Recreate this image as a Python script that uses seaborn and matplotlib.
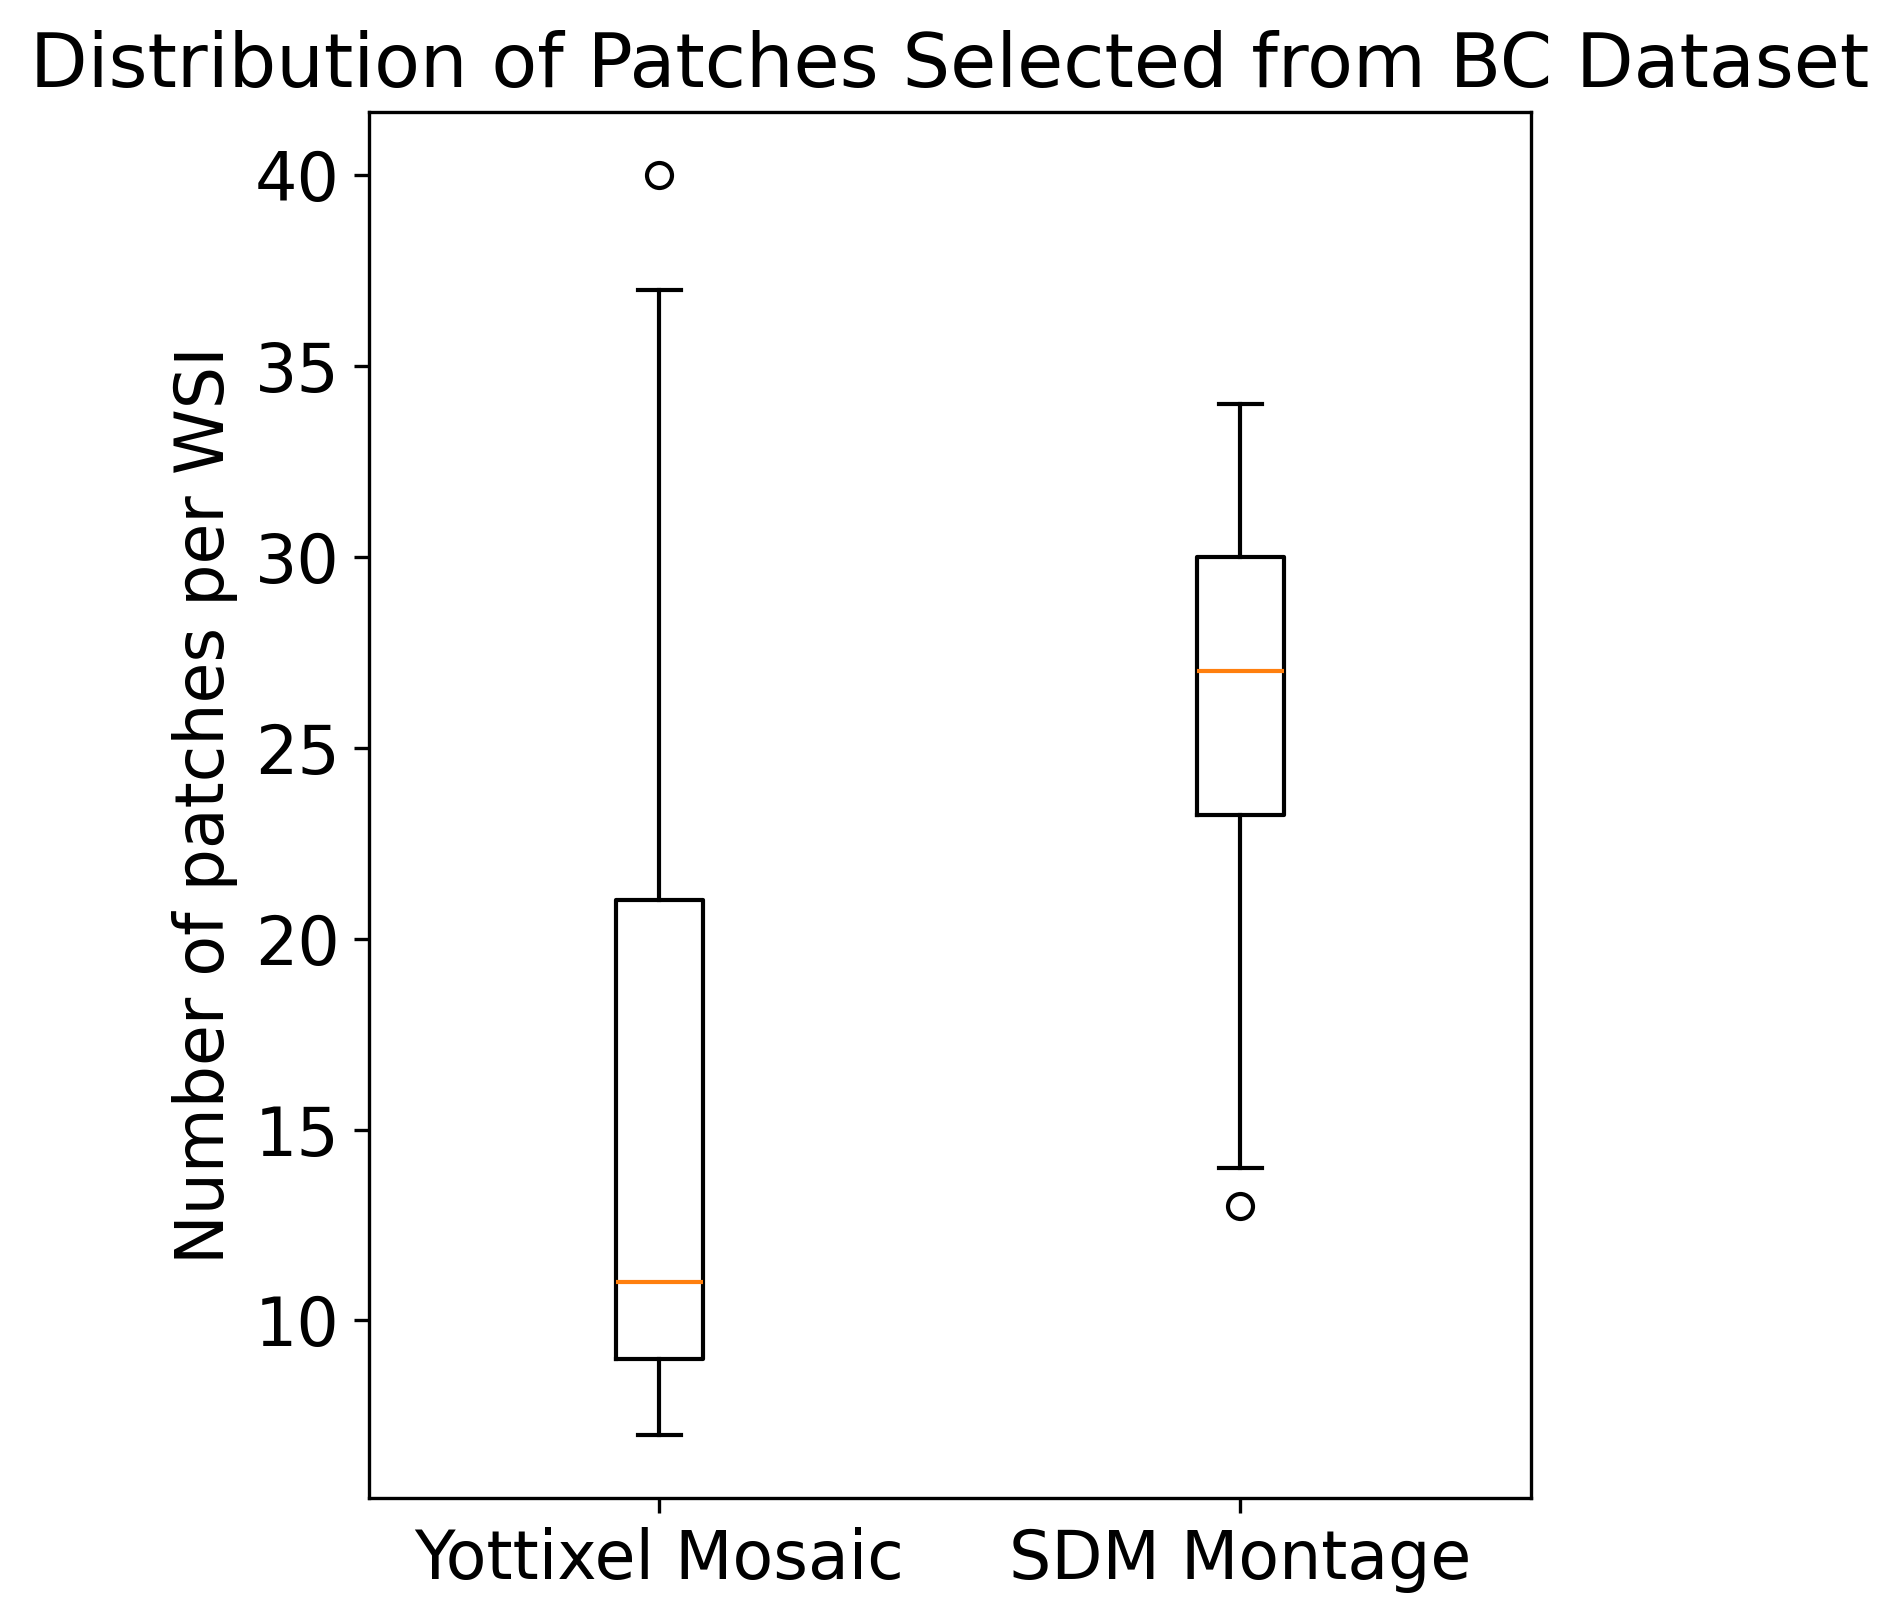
import matplotlib
matplotlib.use("Agg")
import matplotlib.pyplot as plt
import pandas as pd
import seaborn as sns

# Число патчей на один WSI для каждого метода (значения оценены по рисунку)
methods = ['Yottixel Mosaic', 'SDM Montage']
yottixel_patches = [7, 8, 9, 9, 10, 11, 11, 14, 21, 21, 28, 37, 40]
sdm_patches = [13, 14, 20, 23, 24, 26, 27, 27, 28, 30, 30, 32, 33, 34]

df = pd.DataFrame({
    'method': [methods[0]] * len(yottixel_patches) + [methods[1]] * len(sdm_patches),
    'patches': yottixel_patches + sdm_patches,
})

plt.rcParams['font.family'] = ['DejaVu Sans']
plt.rcParams['font.size'] = 16

fig, ax = plt.subplots(figsize=(1899 / 300, 1623 / 300), dpi=300)
fig.subplots_adjust(left=0.1943, right=0.8062, bottom=0.0770, top=0.9310)

sns.boxplot(
    data=df, x='method', y='patches', order=methods, ax=ax,
    width=0.15, fill=False, color='black', linewidth=1,
    medianprops={'color': '#ff7f0e', 'linewidth': 1},
    whiskerprops={'color': 'black', 'linewidth': 1, 'solid_capstyle': 'projecting'},
    capprops={'color': 'black', 'linewidth': 1},
    flierprops={'marker': 'o', 'markerfacecolor': 'none', 'markeredgecolor': 'black',
                'markersize': 6, 'markeredgewidth': 1},
)

ax.set_title('Distribution of Patches Selected from BC Dataset', fontsize=18)
ax.set_xlabel('')
ax.set_ylabel('Number of patches per WSI')

fig.savefig('out.png', dpi=300)
